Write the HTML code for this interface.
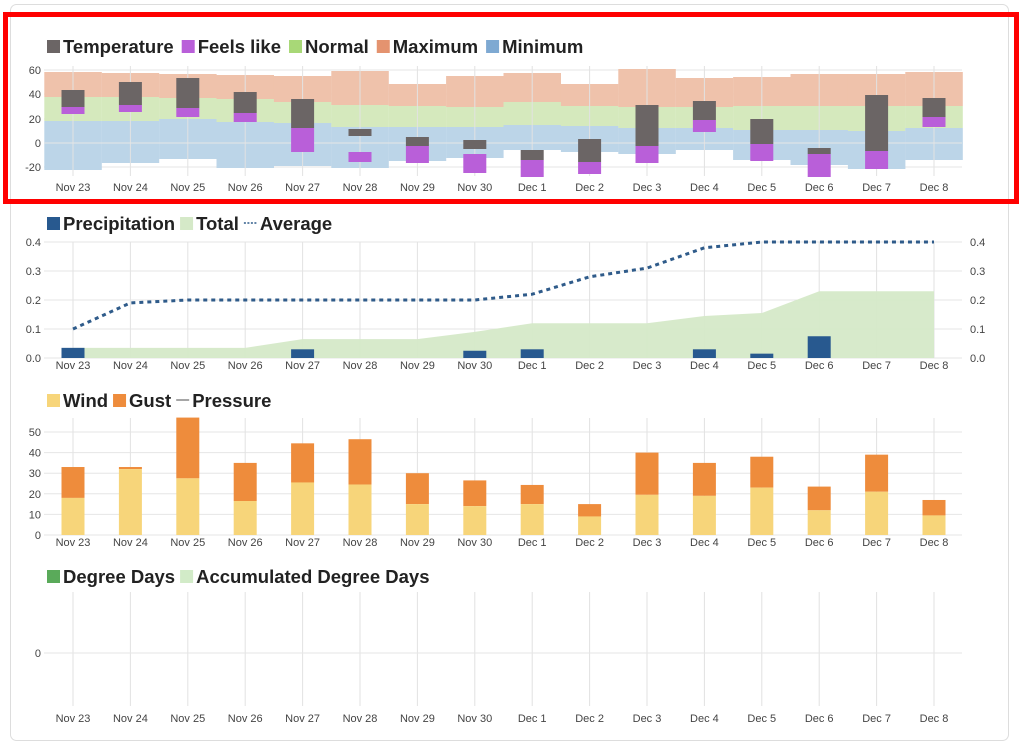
<!DOCTYPE html>
<html><head><meta charset="utf-8"><style>
html,body{margin:0;padding:0;background:#fff;width:1024px;height:754px;overflow:hidden}
svg text{font-family:"Liberation Sans",sans-serif}
.lg{font-size:18.5px;font-weight:bold;fill:#222}
.tk{font-size:11px;fill:#444}
</style></head><body>
<svg id="s" width="1024" height="754" xmlns="http://www.w3.org/2000/svg"></svg>
<script>
const L=["Nov 23","Nov 24","Nov 25","Nov 26","Nov 27","Nov 28","Nov 29","Nov 30","Dec 1","Dec 2","Dec 3","Dec 4","Dec 5","Dec 6","Dec 7","Dec 8"];
const X=i=>73+i*57.4;
const S=document.getElementById('s');
let h='';
h+='<rect x="10.5" y="4.5" width="998" height="736" rx="6" fill="#fff" stroke="#ddd"/>';
function xgrid(y1,y2){for(let i=0;i<16;i++)h+=`<line x1="${X(i)}" y1="${y1}" x2="${X(i)}" y2="${y2}" stroke="#e2e2e2"/>`;}
function xlabels(y){for(let i=0;i<16;i++)h+=`<text class="tk" x="${X(i)}" y="${y}" text-anchor="middle">${L[i]}</text>`;}
function hgrid(y){h+=`<line x1="44" y1="${y}" x2="962" y2="${y}" stroke="#e6e6e6"/>`;}
const legs=[];
function leg(items,y,g){legs.push([items,y,g]);}
leg([["Temperature","#6b6565"],["Feels like","#b95fd9"],["Normal","#a8d877"],["Maximum","#e4936f"],["Minimum","#7ea9d2"]],53,8);
[70,94,119,143,167].forEach(hgrid);
const mx=[72,73,74,75,76,71,84,76,73,84,69,78,77,74,74,72];
const nt=[97,97,98,99,102,105,106,107,102,106,107,107,106,106,106,106];
const bt=[121,121,119,122,123,127,127,127,125,126,128,128,130,130,131,128];
const bb=[170,163,159,168,166,168,161,158,150,152,154,150,160,165,169,160];
for(let i=0;i<16;i++){const x=X(i)-28.7,w=57.5;
h+=`<rect x="${x}" y="${mx[i]}" width="${w}" height="${nt[i]-mx[i]}" fill="#efc2ab"/>`;
h+=`<rect x="${x}" y="${nt[i]}" width="${w}" height="${bt[i]-nt[i]}" fill="#d5e9bd"/>`;
h+=`<rect x="${x}" y="${bt[i]}" width="${w}" height="${bb[i]-bt[i]}" fill="#bcd5e8"/>`;}
xgrid(66,176);
hgrid(143);
const tb=[[90,107,107,114],[82,105,105,112],[78,108,108,117],[92,113,113,122],[99,128,128,152],[129,136,152,162],[137,146,146,163],[140,149,154,173],[150,160,160,177],[139,162,162,174],[105,146,146,163],[101,120,120,132],[119,144,144,161],[148,154,154,177],[95,151,151,169],[98,117,117,127]];
tb.forEach((b,i)=>{const x=X(i)-11.5;h+=`<rect x="${x}" y="${b[0]}" width="23" height="${b[1]-b[0]}" fill="#6b6565"/><rect x="${x}" y="${b[2]}" width="23" height="${b[3]-b[2]}" fill="#b95fd9"/>`;});
[[60,74],[40,98],[20,123],[0,147],[-20,171]].forEach(([v,y])=>h+=`<text class="tk" x="41" y="${y}" text-anchor="end">${v}</text>`);
xlabels(191);
h+='<rect x="5.5" y="14.5" width="1011" height="187" fill="none" stroke="#f00" stroke-width="5"/>';
leg([["Precipitation","#28598f"],["Total","#d5e9c8"],["Average","#2f5b8a",2]],230,5);
const PY=v=>358-v*290;
[0.4,0.3,0.2,0.1,0].forEach(v=>{hgrid(PY(v));h+=`<text class="tk" x="41" y="${PY(v)+4}" text-anchor="end">${v.toFixed(1)}</text><text class="tk" x="970" y="${PY(v)+4}">${v.toFixed(1)}</text>`;});
xgrid(242,358);
const tot=[.035,.035,.035,.035,.065,.065,.065,.09,.12,.12,.12,.145,.155,.23,.23,.23];
let p=`M${X(0)},358 `;tot.forEach((v,i)=>p+=`L${X(i)},${PY(v)} `);p+=`L${X(15)},358Z`;
h+=`<path d="${p}" fill="#d5e9c8" opacity="0.95"/>`;
[[0,.035],[4,.03],[7,.025],[8,.03],[11,.03],[12,.015],[13,.075]].forEach(([i,v])=>h+=`<rect x="${X(i)-11.5}" y="${PY(v)}" width="23" height="${358-PY(v)}" fill="#28598f"/>`);
const av=[.1,.19,.2,.2,.2,.2,.2,.2,.22,.28,.31,.38,.4,.4,.4,.4];
let a='';av.forEach((v,i)=>a+=`${X(i)},${PY(v)} `);
h+=`<polyline points="${a}" fill="none" stroke="#2f5b8a" stroke-width="3" stroke-dasharray="4,4"/>`;
xlabels(369);
leg([["Wind","#f7d57a"],["Gust","#ee8c3c"],["Pressure","#888",1]],407,5);
const WY=v=>535-v*2.06;
[50,40,30,20,10,0].forEach(v=>{hgrid(WY(v));h+=`<text class="tk" x="41" y="${WY(v)+4}" text-anchor="end">${v}</text>`;});
xgrid(418,535);
const wd=[[18,33],[32,33],[27.5,57],[16.5,35],[25.5,44.5],[24.5,46.5],[15,30],[14,26.5],[15,24.3],[9,15],[19.5,40],[19,35],[23,38],[12,23.5],[21,39],[9.5,17]];
wd.forEach(([w,g],i)=>{const x=X(i)-11.5;h+=`<rect x="${x}" y="${WY(g)}" width="23" height="${WY(w)-WY(g)}" fill="#ee8c3c"/><rect x="${x}" y="${WY(w)}" width="23" height="${535-WY(w)}" fill="#f7d57a"/>`;});
xlabels(546);
leg([["Degree Days","#5aaa5a"],["Accumulated Degree Days","#d2ebc8"]],583,5);
xgrid(592,706);
hgrid(653);
h+=`<text class="tk" x="41" y="657" text-anchor="end">0</text>`;
xlabels(722);
S.innerHTML=h;
const NS="http://www.w3.org/2000/svg";
legs.forEach(([items,y,g])=>{let x=47;items.forEach(([t,c,line])=>{
 let m;
 if(line){m=document.createElementNS(NS,'line');m.setAttribute('x1',x);m.setAttribute('x2',x+13);m.setAttribute('y1',y-7);m.setAttribute('y2',y-7);m.setAttribute('stroke',c);m.setAttribute('stroke-width','1.5');if(line==2)m.setAttribute('stroke-dasharray','2,1.5');}
 else{m=document.createElementNS(NS,'rect');m.setAttribute('x',x);m.setAttribute('y',y-13);m.setAttribute('width',13);m.setAttribute('height',13);m.setAttribute('fill',c);}
 S.appendChild(m);x+=16;
 const tx=document.createElementNS(NS,'text');tx.setAttribute('class','lg');tx.setAttribute('x',x);tx.setAttribute('y',y);tx.textContent=t;S.appendChild(tx);
 x+=tx.getComputedTextLength()+g;});});
</script>
</body></html>
